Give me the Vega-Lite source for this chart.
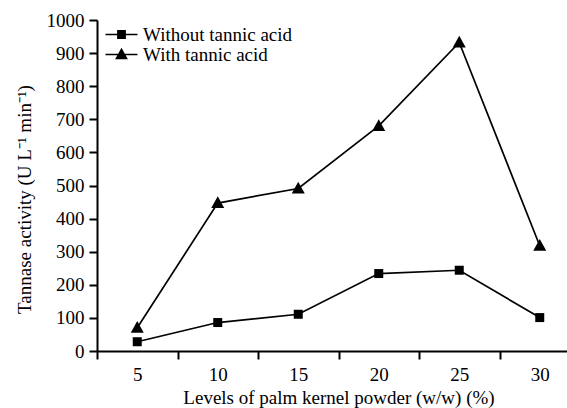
{
  "$schema": "https://vega.github.io/schema/vega-lite/v6.json",
  "autosize": "none",
  "width": 483,
  "height": 331,
  "padding": {"left": 97, "top": 20, "right": -13, "bottom": 57},
  "background": "white",
  "config": {
    "view": {"stroke": null},
    "font": "Liberation Serif",
    "axis": {
      "domainColor": "black",
      "domainWidth": 2,
      "tickColor": "black",
      "tickWidth": 2,
      "tickSize": 8,
      "grid": false,
      "labelColor": "black",
      "labelFont": "Liberation Serif",
      "labelFontSize": 19,
      "titleColor": "black",
      "titleFont": "Liberation Serif",
      "titleFontSize": 19,
      "titleFontWeight": "normal"
    },
    "legend": {
      "labelFont": "Liberation Serif",
      "labelFontSize": 19,
      "labelColor": "black",
      "padding": 0
    }
  },
  "data": {
    "values": [
      {"level": "5", "series": "Without tannic acid", "activity": 28},
      {"level": "10", "series": "Without tannic acid", "activity": 86},
      {"level": "15", "series": "Without tannic acid", "activity": 111},
      {"level": "20", "series": "Without tannic acid", "activity": 234},
      {"level": "25", "series": "Without tannic acid", "activity": 244},
      {"level": "30", "series": "Without tannic acid", "activity": 101},
      {"level": "5", "series": "With tannic acid", "activity": 70},
      {"level": "10", "series": "With tannic acid", "activity": 447},
      {"level": "15", "series": "With tannic acid", "activity": 491},
      {"level": "20", "series": "With tannic acid", "activity": 680},
      {"level": "25", "series": "With tannic acid", "activity": 932},
      {"level": "30", "series": "With tannic acid", "activity": 318}
    ]
  },
  "encoding": {
    "x": {
      "field": "level",
      "type": "ordinal",
      "sort": ["5", "10", "15", "20", "25", "30"],
      "scale": {"type": "band", "paddingInner": 0, "paddingOuter": 0},
      "axis": {
        "title": "Levels of palm kernel powder (w/w) (%)",
        "labelAngle": 0,
        "tickBand": "extent",
        "labelPadding": 6,
        "titlePadding": 4
      }
    },
    "y": {
      "field": "activity",
      "type": "quantitative",
      "scale": {"domain": [0, 1000], "nice": false},
      "axis": {
        "title": "Tannase activity (U L⁻¹ min⁻¹)",
        "values": [0, 100, 200, 300, 400, 500, 600, 700, 800, 900, 1000],
        "format": "d",
        "labelPadding": 5,
        "titlePadding": 12,
        "titleY": 179
      }
    }
  },
  "layer": [
    {
      "mark": {"type": "line", "color": "black", "strokeWidth": 1.7},
      "encoding": {"detail": {"field": "series"}}
    },
    {
      "mark": {"type": "point", "filled": true, "color": "black", "opacity": 1, "size": 100},
      "encoding": {
        "shape": {
          "field": "series",
          "type": "nominal",
          "scale": {
            "domain": ["Without tannic acid", "With tannic acid"],
            "range": ["M-0.9,-0.9H0.9V0.9H-0.9Z", "M0,-1.35L1.3,1.0H-1.3Z"]
          },
          "legend": null
        }
      }
    },
    {
      "description": "Hidden layer that only supplies the legend glyphs: a thin bar through a solid marker, all filled.",
      "mark": {"type": "point", "filled": true, "color": "black", "opacity": 0},
      "encoding": {
        "shape": {
          "field": "series",
          "type": "nominal",
          "scale": {
            "domain": ["Without tannic acid", "With tannic acid"],
            "range": [
              "M-2,-0.1H2V0.1H-2ZM-0.55,-0.55H0.55V0.55H-0.55Z",
              "M-2,-0.1H2V0.1H-2ZM0,-0.85L0.8,0.6H-0.8Z"
            ]
          },
          "legend": {
            "title": null,
            "orient": "none",
            "legendX": 15,
            "legendY": 5,
            "symbolSize": 256,
            "symbolOpacity": 1,
            "symbolFillColor": "black",
            "symbolStrokeWidth": 0,
            "rowPadding": 0,
            "labelOffset": 12
          }
        }
      }
    }
  ],
  "resolve": {"scale": {"shape": "independent"}, "legend": {"shape": "independent"}}
}
